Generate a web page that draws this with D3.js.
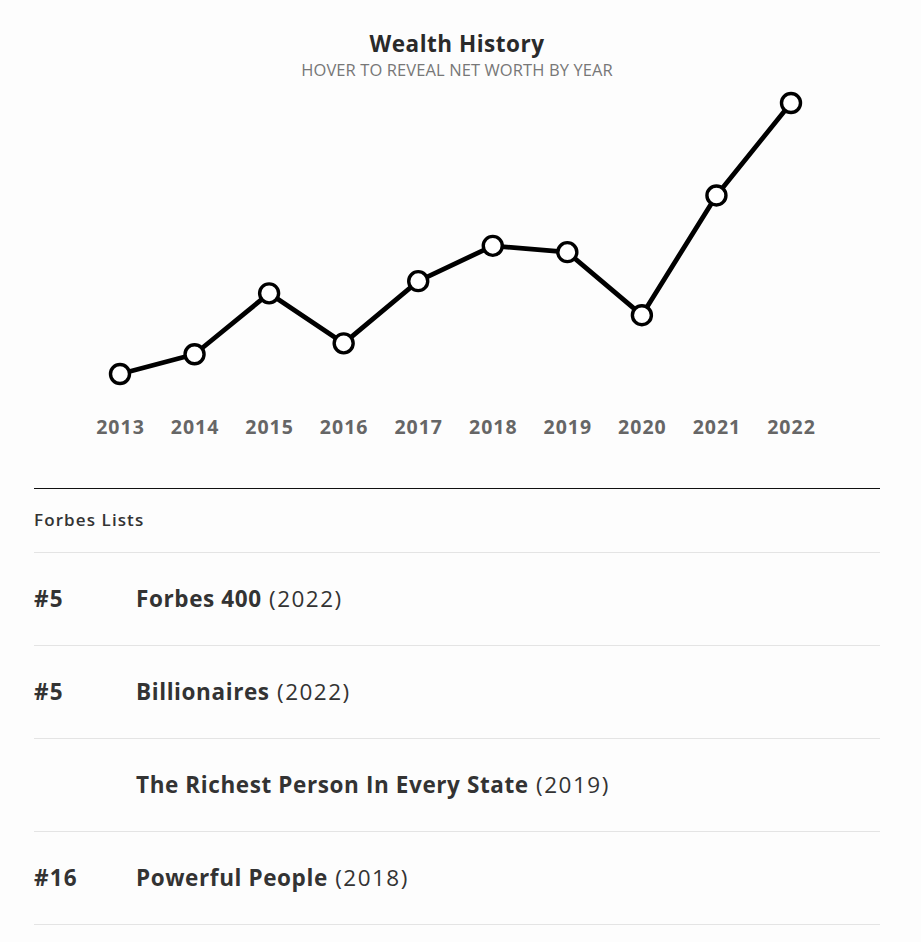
<!DOCTYPE html>
<html>
<head>
<meta charset="utf-8">
<script src="https://cdn.jsdelivr.net/npm/d3@7"></script>
<style>
  html, body { margin: 0; padding: 0; background: #fdfdfd; }
  svg { display: block; font-family: "Open Sans", "Noto Sans", sans-serif; }
</style>
</head>
<body>
<svg id="chart" width="921" height="942"></svg>
<script>
const years = [2013, 2014, 2015, 2016, 2017, 2018, 2019, 2020, 2021, 2022];
const netWorth = [53.5, 58.2, 72.7, 60.8, 75.6, 84.0, 82.5, 67.5, 96.0, 118.0];
const listRanks = ["#5", "#5", "", "#16"];
const listNames = ["Forbes 400", "Billionaires", "The Richest Person In Every State", "Powerful People"];
const listYears = [2022, 2022, 2019, 2018];

const svg = d3.select("#chart");
const W = 921;

svg.append("rect").attr("width", W).attr("height", 942).attr("fill", "#fdfdfd");

// Title
svg.append("text").attr("x", 457).attr("y", 52).attr("text-anchor", "middle")
  .attr("font-size", 22.5).attr("font-weight", 700).attr("letter-spacing", 0.5)
  .attr("fill", "#2a2a2a").text("Wealth History");
svg.append("text").attr("x", 457).attr("y", 76).attr("text-anchor", "middle")
  .attr("font-size", 16.5).attr("letter-spacing", 0.1).attr("fill", "#777")
  .text("HOVER TO REVEAL NET WORTH BY YEAR");

const data = years.map((y, i) => ({ year: y, value: netWorth[i] }));

const x = d3.scalePoint().domain(years).range([120, 791]);
const y = d3.scaleLinear().domain(d3.extent(netWorth)).range([374, 103]);

// Axis
const axis = svg.append("g").attr("transform", "translate(0,420)")
  .call(d3.axisBottom(x).tickSize(0).tickPadding(0).tickFormat(d3.format("d")));
axis.select(".domain").remove();
axis.selectAll("text").attr("font-size", 19.5).attr("font-weight", 700)
  .attr("letter-spacing", 1).attr("fill", "#666")
  .attr("font-family", "Open Sans, sans-serif").attr("dy", "0.71em");

// Line
const line = d3.line().x(d => x(d.year)).y(d => y(d.value));
svg.append("path").datum(data).attr("d", line).attr("fill", "none")
  .attr("stroke", "#000").attr("stroke-width", 4.8).attr("stroke-linejoin", "round");

svg.selectAll("circle.pt").data(data).enter().append("circle").attr("class", "pt")
  .attr("cx", d => x(d.year)).attr("cy", d => y(d.value)).attr("r", 9.5)
  .attr("fill", "#fff").attr("stroke", "#000").attr("stroke-width", 3.4);

// Divider
svg.append("line").attr("x1", 34).attr("x2", 880).attr("y1", 488.5).attr("y2", 488.5)
  .attr("stroke", "#111").attr("stroke-width", 1);

svg.append("text").attr("x", 34).attr("y", 526).attr("font-size", 17).attr("font-weight", 600)
  .attr("letter-spacing", 1.1).attr("fill", "#333").text("Forbes Lists");

// separators
const sepY = [552, 645, 738, 831, 924];
svg.selectAll("line.sep").data(sepY).enter().append("line").attr("class", "sep")
  .attr("x1", 34).attr("x2", 880).attr("y1", d => d + 0.5).attr("y2", d => d + 0.5)
  .attr("stroke", "#e4e4e4").attr("stroke-width", 1);

const rows = svg.selectAll("g.row").data(listNames.map((n, i) => ({ rank: listRanks[i], name: n, yr: listYears[i] })))
  .enter().append("g").attr("class", "row")
  .attr("transform", (d, i) => `translate(0,${607 + i * 93})`);

rows.append("text").attr("x", 34).attr("font-size", 22.5).attr("font-weight", 700)
  .attr("letter-spacing", 1.2).attr("fill", "#333").text(d => d.rank);

const t = rows.append("text").attr("x", 136).attr("font-size", 22.5).attr("fill", "#333");
t.append("tspan").attr("font-weight", 700).attr("letter-spacing", 0.6).text(d => d.name);
t.append("tspan").attr("font-weight", 400).attr("letter-spacing", 1.5).text(d => " (" + d.yr + ")");
</script>
</body>
</html>
